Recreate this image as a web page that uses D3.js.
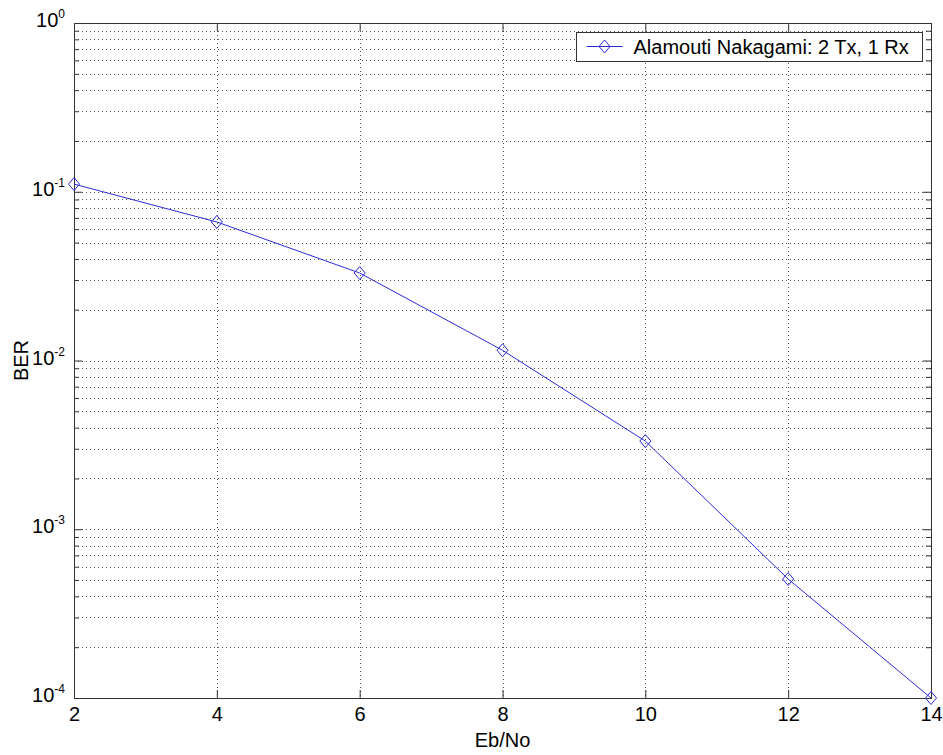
<!DOCTYPE html>
<html>
<head>
  <title>Alamouti Nakagami BER</title>
  <script src="https://d3js.org/d3.v7.min.js"></script>
  <style>
    body { margin: 0; background: #fff; }
    text { font-family: Arial, "Liberation Sans", sans-serif; fill: #000; }
  </style>
</head>
<body>
  <div id="chart"></div>

  <script>
    // data
    var ebno = [2, 4, 6, 8, 10, 12, 14];
    var ber = [0.111, 0.0662, 0.033, 0.0115, 0.00333, 0.000507, 0.0001];
    var xTicks = [2, 4, 6, 8, 10, 12, 14];
    var yDecades = [-4, -3, -2, -1, 0];
    var seriesName = 'Alamouti Nakagami: 2 Tx, 1 Rx';

    var W = 943, H = 755;
    var margin = { top: 23, right: 12, bottom: 57, left: 74 };
    var width = W - margin.left - margin.right;
    var height = H - margin.top - margin.bottom;
    var fontFam = 'Arial, "Liberation Sans", sans-serif';

    var svg = d3.select('#chart').append('svg')
      .attr('width', W)
      .attr('height', H);

    var g = svg.append('g')
      .attr('transform', 'translate(' + margin.left + ',' + margin.top + ')');

    var x = d3.scaleLinear().domain([2, 14]).range([0, width]);
    var y = d3.scaleLog().domain([1e-4, 1]).range([height, 0]);

    var majors = yDecades.map(function(p) { return Math.pow(10, p); });
    var minors = [];
    yDecades.slice(0, -1).forEach(function(p) {
      for (var m = 2; m <= 9; m++) minors.push(m * Math.pow(10, p));
    });

    // grid
    var grid = g.append('g').attr('class', 'grid')
      .attr('stroke', '#555')
      .attr('stroke-width', 1)
      .attr('stroke-dasharray', '1,3');

    grid.selectAll('.hgrid')
      .data(majors.concat(minors))
      .enter().append('line')
      .attr('x1', 0).attr('x2', width)
      .attr('y1', function(d) { return Math.round(y(d)) + 0.5; })
      .attr('y2', function(d) { return Math.round(y(d)) + 0.5; });

    grid.selectAll('.vgrid')
      .data(xTicks)
      .enter().append('line')
      .attr('y1', 0).attr('y2', height)
      .attr('x1', function(d) { return Math.round(x(d)) + 0.5; })
      .attr('x2', function(d) { return Math.round(x(d)) + 0.5; });

    // axes (ticks pointing inward)
    function styleAxis(sel) {
      sel.select('.domain').remove();
      sel.selectAll('line').attr('stroke', '#333');
    }

    g.append('g')
      .attr('transform', 'translate(0,' + height + ')')
      .call(d3.axisBottom(x).tickValues(xTicks).tickSize(-8).tickPadding(9).tickFormat(d3.format('d')))
      .call(styleAxis)
      .selectAll('text')
      .attr('font-size', '20px')
      .attr('font-family', fontFam);

    g.append('g')
      .call(d3.axisTop(x).tickValues(xTicks).tickSize(-8).tickFormat(''))
      .call(styleAxis);

    var yAxis = g.append('g')
      .call(d3.axisLeft(y).tickValues(majors).tickSize(-8).tickPadding(9))
      .call(styleAxis);

    yAxis.selectAll('text')
      .attr('font-family', fontFam)
      .attr('dy', '0.37em')
      .each(function(d) {
        var t = d3.select(this).text(null);
        var p = Math.round(Math.log10(d));
        t.append('tspan').attr('font-size', '20px').text('10');
        t.append('tspan').attr('font-size', '12px').attr('dy', '-9').text(p);
      });

    g.append('g')
      .call(d3.axisLeft(y).tickValues(minors).tickSize(-5).tickFormat(''))
      .call(styleAxis);

    g.append('g')
      .attr('transform', 'translate(' + width + ',0)')
      .call(d3.axisRight(y).tickValues(majors).tickSize(-8).tickFormat(''))
      .call(styleAxis);

    g.append('g')
      .attr('transform', 'translate(' + width + ',0)')
      .call(d3.axisRight(y).tickValues(minors).tickSize(-5).tickFormat(''))
      .call(styleAxis);

    // box
    g.append('rect')
      .attr('x', 0.5).attr('y', 0.5)
      .attr('width', width).attr('height', height)
      .attr('fill', 'none')
      .attr('stroke', '#333')
      .attr('stroke-width', 1);

    // series
    var lineColor = '#2b2bd6';
    var pts = ebno.map(function(d, i) { return [d, ber[i]]; });

    var line = d3.line()
      .x(function(d) { return x(d[0]); })
      .y(function(d) { return y(d[1]); });

    g.append('path')
      .datum(pts)
      .attr('d', line)
      .attr('fill', 'none')
      .attr('stroke', lineColor)
      .attr('stroke-width', 1);

    function diamond(cx, cy) {
      return 'M' + cx + ',' + (cy - 6.5) + 'L' + (cx + 5.5) + ',' + cy +
        'L' + cx + ',' + (cy + 6.5) + 'L' + (cx - 5.5) + ',' + cy + 'Z';
    }

    g.selectAll('.marker')
      .data(pts)
      .enter().append('path')
      .attr('class', 'marker')
      .attr('d', function(d) { return diamond(x(d[0]), y(d[1])); })
      .attr('fill', 'none')
      .attr('stroke', lineColor)
      .attr('stroke-width', 1);

    // axis labels
    svg.append('text')
      .attr('x', margin.left + width / 2)
      .attr('y', 747)
      .attr('text-anchor', 'middle')
      .attr('font-size', '20px')
      .text('Eb/No');

    svg.append('text')
      .attr('transform', 'translate(28,' + (margin.top + height / 2) + ') rotate(-90)')
      .attr('text-anchor', 'middle')
      .attr('font-size', '20px')
      .text('BER');

    // legend
    var legend = svg.append('g').attr('transform', 'translate(576.5,32.5)');
    legend.append('rect')
      .attr('width', 346).attr('height', 29)
      .attr('fill', '#fff')
      .attr('stroke', '#333');
    legend.append('line')
      .attr('x1', 10).attr('x2', 46)
      .attr('y1', 14).attr('y2', 14)
      .attr('stroke', lineColor);
    legend.append('path')
      .attr('d', diamond(28, 14))
      .attr('fill', 'none')
      .attr('stroke', lineColor);
    legend.append('text')
      .attr('x', 57).attr('y', 21)
      .attr('font-size', '20px')
      .text(seriesName);
  </script>
</body>
</html>
